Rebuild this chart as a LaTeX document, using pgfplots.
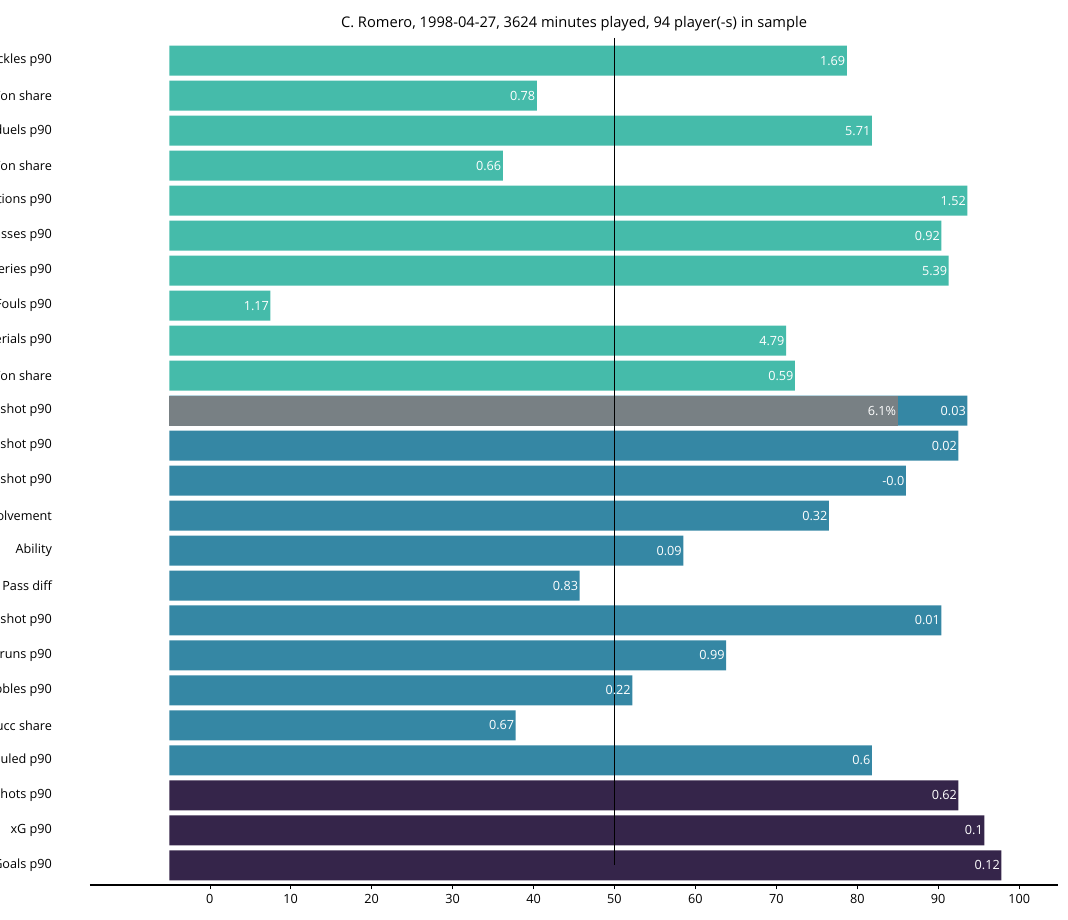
\documentclass[border=0pt]{standalone}
\usepackage{pgfplots}
\pgfplotsset{compat=1.18}
\usepackage{fontspec}
\setmainfont{Open Sans}
\definecolor{cteal}{HTML}{45BBAA}
\definecolor{cblue}{HTML}{3587A4}
\definecolor{cdark}{HTML}{35254A}
\definecolor{cgrey}{HTML}{788084}
\begin{document}
\begin{tikzpicture}[x=1pt,y=1pt]
\useasboundingbox (-67.5pt,-26pt) rectangle (733.5pt,664pt);
\begin{axis}[
  scale only axis, width=726pt, height=635pt,
  xmin=-9.8, xmax=109.8, ymin=-0.63, ymax=23.57, y dir=reverse,
  xbar, bar width=22.5pt, bar shift=0pt,
  axis x line=bottom, axis y line=left,
  x axis line style={line width=1.4pt,-},
  y axis line style={draw=none},
  xtick={5,15,...,105}, xticklabels={0,10,20,30,40,50,60,70,80,90,100},
  xtick style={black,thin}, ytick style={draw=none},
  tick align=outside, major tick length=3pt,
  ytick={0,...,23},
  yticklabels={Tackles p90,TacklesWon share,Defensive duels p90,defDuelsWon share,Interceptions p90,BlockedPasses p90,BallRecoveries p90,Fouls p90,Aerials p90,AerialWon share,Non-shot p90,Passes non-shot p90,Def third non-shot p90,Involvement,Ability,Pass diff,Runs non-shot p90,Progressive runs p90,Dribbles p90,Dribbles succ share,Fouled p90,Shots p90,xG p90,Goals p90},
  ticklabel style={font=\fontsize{9.5}{11}\selectfont},
  yticklabel style={xshift=-22pt},
  /pgf/number format/assume math mode=true,
  point meta=explicit symbolic,
  nodes near coords,
  every node near coord/.append style={anchor=east,text=white,font=\fontsize{9.5}{11}\selectfont,inner xsep=1pt},
  title={C. Romero, 1998-04-27, 3624 minutes played, 94 player(-s) in sample},
  title style={font=\fontsize{11}{13}\selectfont,yshift=-4pt},
  clip=false,
]
\addplot[fill=cteal,draw=none] coordinates {
(83.7,0)[1.69] (45.4,1)[0.78] (86.8,2)[5.71] (41.2,3)[0.66] (98.6,4)[1.52]
(95.4,5)[0.92] (96.3,6)[5.39] (12.5,7)[1.17] (76.2,8)[4.79] (77.3,9)[0.59]};
\addplot[fill=cblue,draw=none] coordinates {
(98.6,10)[0.03] (97.5,11)[0.02] (91.0,12)[-0.0] (81.5,13)[0.32] (63.5,14)[0.09]
(50.7,15)[0.83] (95.4,16)[0.01] (68.8,17)[0.99] (57.2,18)[0.22] (42.8,19)[0.67] (86.8,20)[0.6]};
\addplot[fill=cgrey,draw=none] coordinates {(90.0,10)[6.1\%]};
\addplot[fill=cdark,draw=none] coordinates {(97.5,21)[0.62] (100.7,22)[0.1] (102.8,23)[0.12]};
\draw[black,thin] (axis cs:55,-0.65) -- (axis cs:55,23);
\end{axis}
\end{tikzpicture}
\end{document}
